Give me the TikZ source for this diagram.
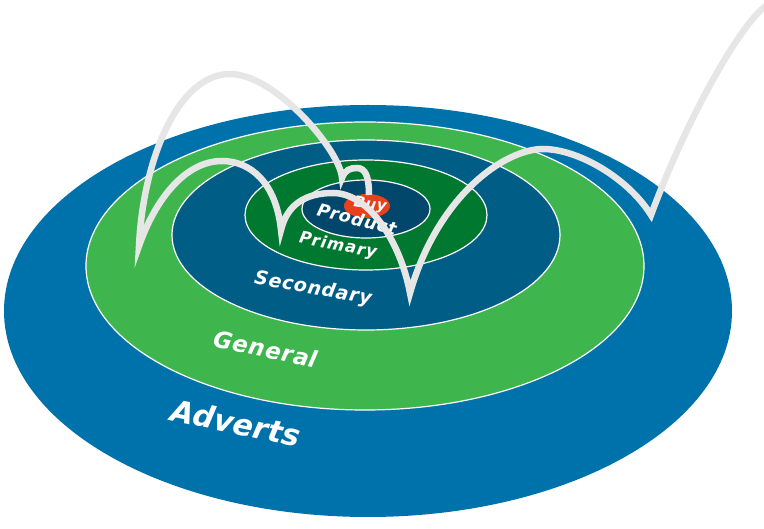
\documentclass[tikz,border=0pt]{standalone}
\usepackage{fontspec}
\setmainfont{DejaVu Sans}
\definecolor{advblue}{RGB}{0,114,171}
\definecolor{gengreen}{RGB}{63,181,78}
\definecolor{secblue}{RGB}{0,94,134}
\definecolor{primgreen}{RGB}{0,120,47}
\definecolor{prodnavy}{RGB}{0,71,107}
\definecolor{buyred}{RGB}{234,64,28}
\definecolor{arcgray}{RGB}{230,230,230}
\newcommand{\labfont}[2]{\bfseries\itshape\fontsize{#1}{#1}\selectfont\addfontfeature{LetterSpace=#2}}
\begin{document}
\begin{tikzpicture}[x=1pt,y=-1pt,
  lab/.style={text=white, inner sep=0pt},
  ring/.style={draw=white, line width=1.2pt},
  hop/.style={draw=arcgray, line width=6.5pt, line join=miter, miter limit=25, line cap=butt}]
\useasboundingbox (0,0) rectangle (764,529);
% rings
\fill[advblue] (368,311) ellipse [x radius=364pt, y radius=206pt];
\filldraw[ring, fill=gengreen] (365,266) ellipse [x radius=279pt, y radius=144pt];
\filldraw[ring, fill=secblue] (366,235) ellipse [x radius=194pt, y radius=95pt];
\filldraw[ring, fill=primgreen] (366,215) ellipse [x radius=121pt, y radius=55pt];
\filldraw[ring, fill=prodnavy] (366,209) ellipse [x radius=64pt, y radius=29pt];
\fill[buyred] (367,206) ellipse [x radius=23pt, y radius=12pt];
% labels
\node[lab, rotate=-12, font=\labfont{30}{0}] (adverts) at (236,423) {Adverts};
\node[lab, rotate=-12, font=\labfont{23}{3}] (general) at (266,349) {General};
\node[lab, rotate=-10, font=\labfont{19}{4}] (secondary) at (313,289) {Secondary};
\node[lab, rotate=-11, font=\labfont{16.5}{6}] (primary) at (338,246) {Primary};
\node[lab, rotate=-14, font=\labfont{17.5}{4}] (product) at (357,219) {Product};
\node[lab, rotate=-9, font=\labfont{15}{4}] (buy) at (370,205) {Buy};
% bouncing path
\coordinate (s0) at (775,2);
\coordinate (l1) at (651,215);
\coordinate (p1) at (543,149);
\coordinate (l2) at (410,293);
\coordinate (p2) at (333,193);
\coordinate (l3) at (281,230);
\coordinate (p3) at (222,161);
\coordinate (l4) at (139,246);
\coordinate (p4) at (230,74);
\coordinate (l5) at (342,178);
\coordinate (p5) at (357,168);
\coordinate (e) at (369,195);
\draw[hop] (s0) .. controls (752,2) and (690,110) .. (l1)
  .. controls (628,178) and (578,149) .. (p1)
  .. controls (505,149) and (438,195) .. (l2)
  .. controls (400,240) and (368,193) .. (p2)
  .. controls (305,193) and (287,205) .. (l3)
  .. controls (276,182) and (250,161) .. (p3)
  .. controls (185,161) and (155,200) .. (l4)
  .. controls (143,160) and (178,74) .. (p4)
  .. controls (275,74) and (340,150) .. (l5)
  .. controls (345,170) and (350,168) .. (p5)
  .. controls (366,168) and (369,178) .. (e);
\end{tikzpicture}
\end{document}
